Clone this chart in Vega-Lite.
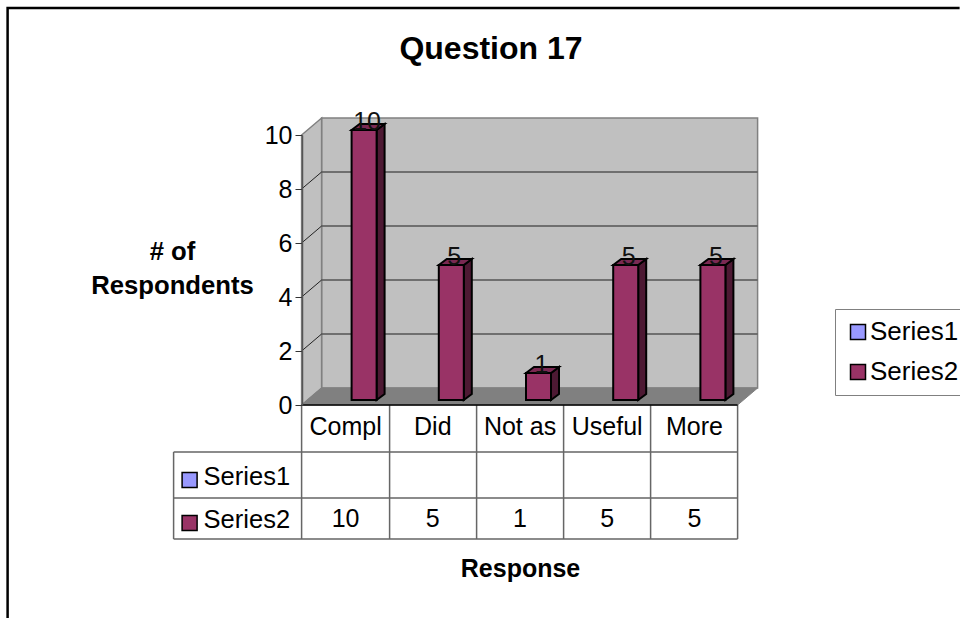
{
"$schema":"https://vega.github.io/schema/vega-lite/v6.json",
"width":960,"height":618,"padding":0,"autosize":{"type":"none"},
"background":"white",
"config":{"view":{"stroke":null},"font":"Liberation Sans"},
"title":{"text":"Question 17","font":"Liberation Sans","fontSize":32,"fontWeight":"bold","color":"black","anchor":"middle","frame":"group","dx":11,"offset":-66},
"datasets":{
"responses":[
{"response":"Compl","series":"Series2","value":10},
{"response":"Did","series":"Series2","value":5},
{"response":"Not as","series":"Series2","value":1},
{"response":"Useful","series":"Series2","value":5},
{"response":"More","series":"Series2","value":5}],
"grid":[{"value":2},{"value":4},{"value":6},{"value":8}],
"series":[{"series":"Series1"},{"series":"Series2"}],
"anchor":[{"anchor":"chart"}]
},
"resolve":{"scale":{"shape":"independent"}},
"layer":[
{"data":{"name":"anchor"},
"mark":{"type":"point","size":4,"filled":true,"fill":"#c0c0c0","stroke":"#808080","strokeWidth":1.5,"opacity":1,"shape":"M-24,-17 L-24,-287 L412,-287 L412,-17 Z"},
"encoding":{
"x":{"datum":"Compl","type":"nominal","scale":{"domain":["Compl","Did","Not as","Useful","More"],"range":[302,738],"paddingInner":0,"paddingOuter":0}},
"y":{"datum":0,"type":"quantitative","scale":{"domain":[0,10],"range":[405,135],"nice":false,"zero":false}}
}},
{"data":{"name":"anchor"},
"mark":{"type":"point","size":4,"filled":true,"fill":"#c0c0c0","stroke":"#808080","strokeWidth":1.5,"opacity":1,"shape":"M-44,0 L-44,-270 L-24,-287 L-24,-17 Z"},
"encoding":{"x":{"datum":"Compl","type":"nominal"},"y":{"datum":0,"type":"quantitative"}}},
{"data":{"name":"anchor"},
"mark":{"type":"point","size":4,"filled":true,"fill":"#808080","stroke":"#808080","strokeWidth":1,"opacity":1,"shape":"M-44,0 L-24,-17 L412,-17 L392,0 Z"},
"encoding":{"x":{"datum":"Compl","type":"nominal"},"y":{"datum":0,"type":"quantitative"}}},
{"data":{"name":"grid"},
"mark":{"type":"point","size":4,"filled":false,"stroke":"#555555","strokeWidth":1.5,"opacity":1,"shape":"M-24,-17 L412,-17"},
"encoding":{"x":{"datum":"Compl","type":"nominal"},"y":{"field":"value","type":"quantitative"}}},
{"data":{"name":"grid"},
"mark":{"type":"point","size":4,"filled":false,"stroke":"#222222","strokeWidth":1,"opacity":1,"shape":"M-44,0 L-24,-17"},
"encoding":{"x":{"datum":"Compl","type":"nominal"},"y":{"field":"value","type":"quantitative"}}},
{"data":{"name":"responses"},
"mark":{"type":"point","size":4,"filled":true,"fill":"#4d1933","stroke":"black","strokeWidth":2,"opacity":1,"xOffset":18.5,"yOffset":-5},
"encoding":{"x":{"field":"response","type":"nominal"},"y":{"datum":0,"type":"quantitative"},
"shape":{"field":"value","type":"nominal","legend":null,"scale":{"domain":[1,5,10],"range":["M12.5,0 L20.5,-6 L20.5,-33 L12.5,-27 Z","M12.5,0 L20.5,-6 L20.5,-141 L12.5,-135 Z","M12.5,0 L20.5,-6 L20.5,-276 L12.5,-270 Z"]}}}},
{"data":{"name":"responses"},
"mark":{"type":"point","size":4,"filled":true,"fill":"#7a2952","stroke":"black","strokeWidth":2,"opacity":1,"xOffset":18.5,"yOffset":-5},
"encoding":{"x":{"field":"response","type":"nominal"},"y":{"datum":0,"type":"quantitative"},
"shape":{"field":"value","type":"nominal","legend":null,"scale":{"domain":[1,5,10],"range":["M-12.5,-27 L-4.5,-33 L20.5,-33 L12.5,-27 Z","M-12.5,-135 L-4.5,-141 L20.5,-141 L12.5,-135 Z","M-12.5,-270 L-4.5,-276 L20.5,-276 L12.5,-270 Z"]}}}},
{"data":{"name":"responses"},
"mark":{"type":"bar","width":25,"stroke":"black","strokeWidth":2,"xOffset":18.5,"yOffset":-5},
"encoding":{
"x":{"field":"response","type":"nominal","sort":null,
"axis":{"orient":"bottom","offset":-213,"domain":false,"ticks":false,"labelAngle":0,"labelAlign":"center","labelFont":"Liberation Sans","labelFontSize":25,"labelColor":"black","labelPadding":9,"labelBaseline":"top","title":"Response","titleFont":"Liberation Sans","titleFontSize":25,"titleFontWeight":"bold","titleColor":"black","titleX":520,"titleY":171,"titleBaseline":"alphabetic","titleAlign":"center","zindex":1}},
"y":{"field":"value","type":"quantitative",
"axis":{"orient":"left","offset":-302,"values":[0,2,4,6,8,10],"format":"d","grid":false,"domain":true,"domainColor":"#555555","domainWidth":1.5,"tickColor":"#333333","tickSize":7,"tickWidth":1,"labelFont":"Liberation Sans","labelFontSize":25,"labelColor":"black","labelPadding":3,"title":["# of","Respondents"],"titleFont":"Liberation Sans","titleFontSize":25.7,"titleFontWeight":"bold","titleColor":"black","titleAngle":0,"titleX":-130,"titleY":259,"titleLineHeight":34,"titleAlign":"center","titleBaseline":"alphabetic","zindex":1}},
"color":{"field":"series","type":"nominal","scale":{"domain":["Series1","Series2"],"range":["#9999ff","#993366"]},
"legend":{"orient":"none","legendX":835,"legendY":309,"title":null,"padding":10,"strokeColor":"#808080","fillColor":"white","symbolType":"square","symbolSize":225,"symbolStrokeColor":"black","symbolStrokeWidth":1.5,"labelFont":"Liberation Sans","labelFontSize":26,"labelColor":"black","labelOffset":-1,"rowPadding":14,"labelLimit":200}}}},
{"data":{"name":"responses"},
"mark":{"type":"text","font":"Liberation Sans","fontSize":25,"color":"#111111","baseline":"alphabetic","align":"center","xOffset":21.5,"yOffset":-5},
"encoding":{"x":{"field":"response","type":"nominal"},"y":{"field":"value","type":"quantitative"},"text":{"field":"value","type":"quantitative"}}},
{"data":{"name":"anchor"},
"mark":{"type":"point","size":4,"filled":false,"stroke":"#666666","strokeWidth":1.5,"opacity":1,"shape":"M-172,47 L392,47 M-172,93 L392,93 M-172,134 L392,134 M-172,47 L-172,134 M-44,0 L-44,134 M44,0 L44,134 M131,0 L131,134 M218,0 L218,134 M305,0 L305,134 M392,0 L392,134"},
"encoding":{"x":{"datum":"Compl","type":"nominal"},"y":{"datum":0,"type":"quantitative"}}},
{"data":{"name":"anchor"},
"mark":{"type":"point","size":4,"filled":false,"stroke":"black","strokeWidth":1.5,"opacity":1,"shape":"M-44,0 L392,0"},
"encoding":{"x":{"datum":"Compl","type":"nominal"},"y":{"datum":0,"type":"quantitative"}}},
{"data":{"name":"anchor"},
"mark":{"type":"point","size":4,"filled":false,"stroke":"black","strokeWidth":2.5,"opacity":1,"shape":"M-338,213 L-338,-397 L614,-397"},
"encoding":{"x":{"datum":"Compl","type":"nominal"},"y":{"datum":0,"type":"quantitative"}}},
{"data":{"name":"responses"},
"mark":{"type":"text","font":"Liberation Sans","fontSize":25,"color":"black","baseline":"middle","align":"center","yOffset":114},
"encoding":{"x":{"field":"response","type":"nominal"},"y":{"datum":0,"type":"quantitative"},"text":{"field":"value","type":"quantitative"}}},
{"data":{"name":"series"},"transform":[{"filter":"datum.series === 'Series1'"}],
"mark":{"type":"text","font":"Liberation Sans","fontSize":25.5,"color":"black","baseline":"middle","align":"left","xOffset":-142,"yOffset":72},
"encoding":{"x":{"datum":"Compl","type":"nominal"},"y":{"datum":0,"type":"quantitative"},"text":{"field":"series","type":"nominal"}}},
{"data":{"name":"series"},"transform":[{"filter":"datum.series === 'Series2'"}],
"mark":{"type":"text","font":"Liberation Sans","fontSize":25.5,"color":"black","baseline":"middle","align":"left","xOffset":-142,"yOffset":115},
"encoding":{"x":{"datum":"Compl","type":"nominal"},"y":{"datum":0,"type":"quantitative"},"text":{"field":"series","type":"nominal"}}},
{"data":{"name":"series"},"transform":[{"filter":"datum.series === 'Series1'"}],
"mark":{"type":"square","size":225,"opacity":1,"stroke":"black","strokeWidth":1.5,"xOffset":-156,"yOffset":75},
"encoding":{"x":{"datum":"Compl","type":"nominal"},"y":{"datum":0,"type":"quantitative"},"color":{"field":"series","type":"nominal"}}},
{"data":{"name":"series"},"transform":[{"filter":"datum.series === 'Series2'"}],
"mark":{"type":"square","size":225,"opacity":1,"stroke":"black","strokeWidth":1.5,"xOffset":-156,"yOffset":118},
"encoding":{"x":{"datum":"Compl","type":"nominal"},"y":{"datum":0,"type":"quantitative"},"color":{"field":"series","type":"nominal"}}}
]
}
